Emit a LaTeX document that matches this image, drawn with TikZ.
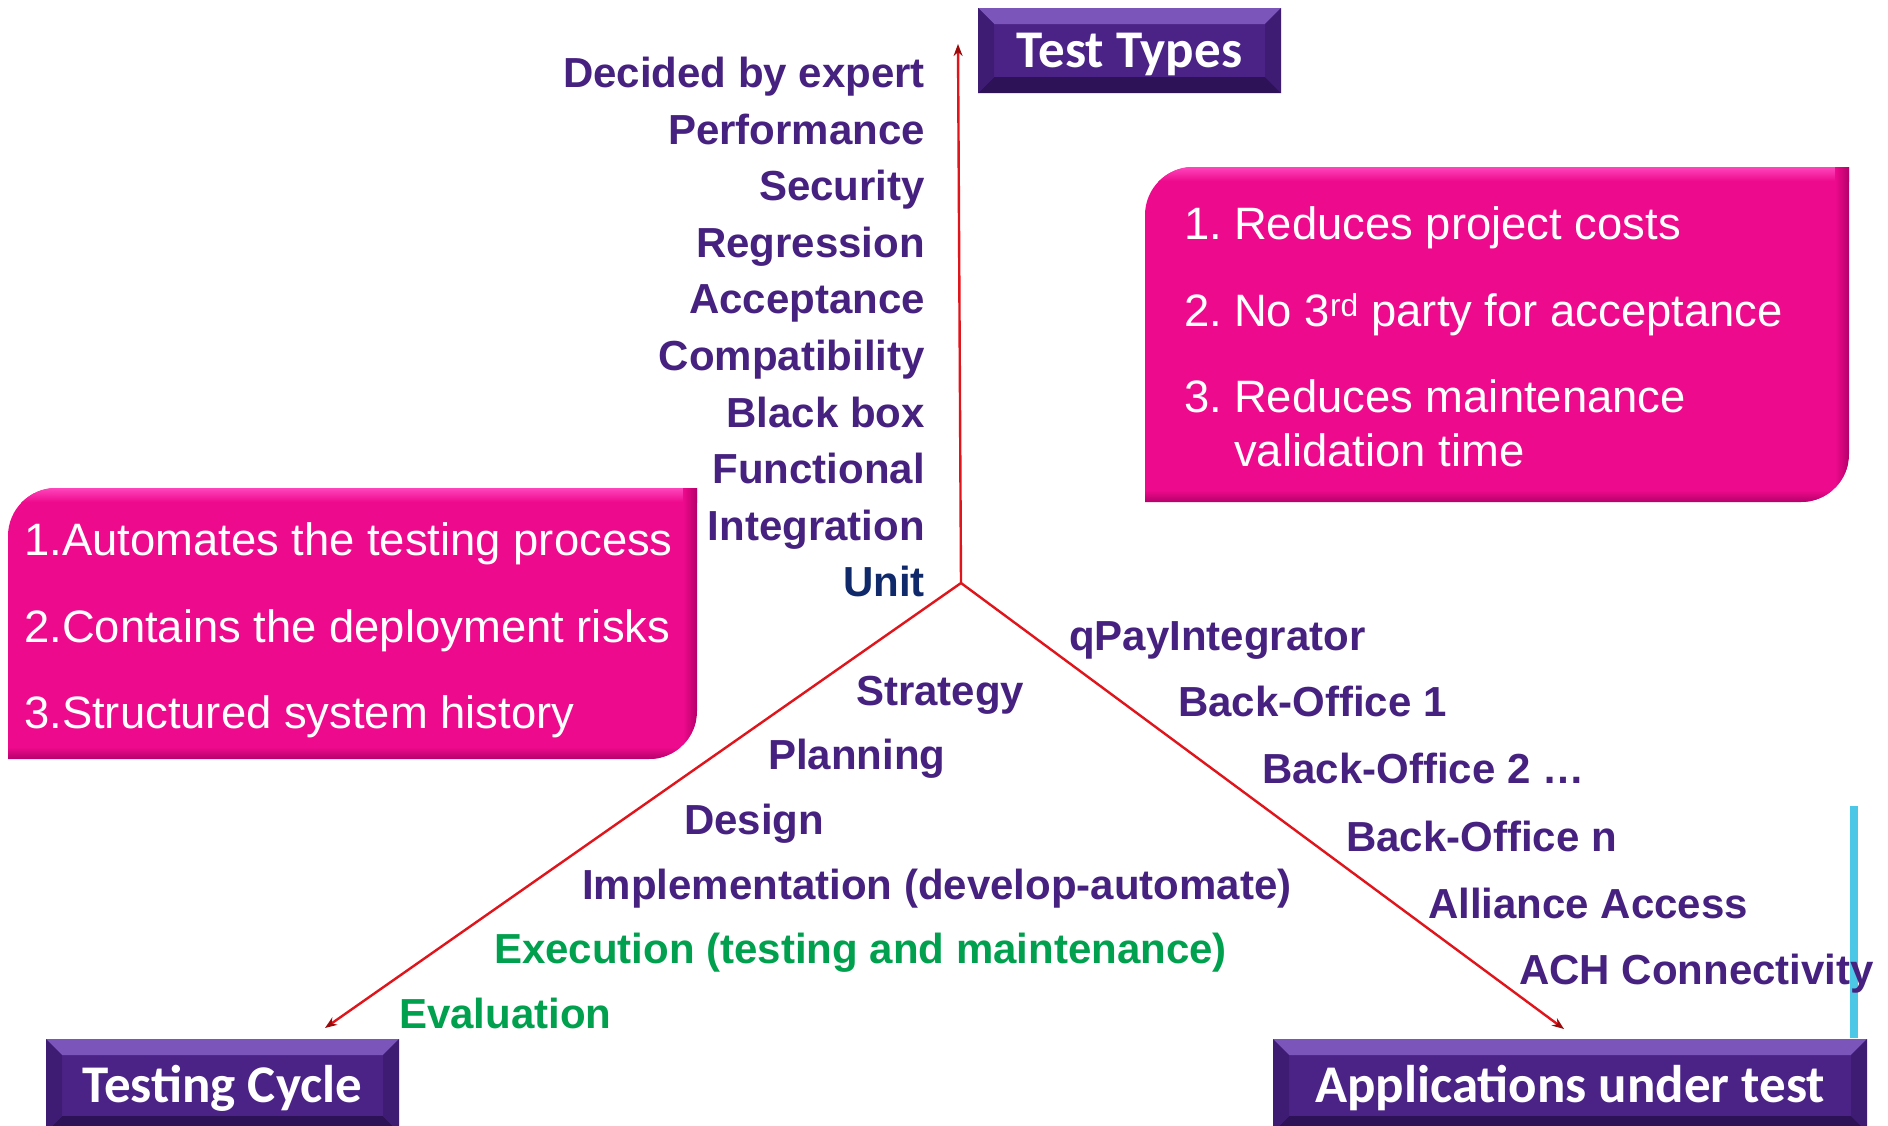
\documentclass[tikz,border=0pt]{standalone}
\usepackage{fontspec}
\setmainfont{Liberation Sans}
\newfontfamily\calfont{Carlito}
\usetikzlibrary{arrows.meta}
\definecolor{tpurple}{HTML}{4B2386}
\definecolor{tlight}{HTML}{7B55B9}
\definecolor{tdark}{HTML}{2E1257}
\definecolor{tside}{HTML}{3E1C74}
\definecolor{lblpurple}{HTML}{46217F}
\definecolor{unitblue}{HTML}{10296A}
\definecolor{lblgreen}{HTML}{00A04E}
\definecolor{pinkmain}{HTML}{EE0A8C}
\definecolor{pinklight}{HTML}{FF45BC}
\definecolor{pinkdark}{HTML}{B5006A}
\definecolor{axisred}{HTML}{E0141B}
\definecolor{axisdark}{HTML}{9A0A0A}
\definecolor{cyanbar}{HTML}{4CC7E6}
\tikzset{
  lbl/.style={inner sep=0pt, anchor=west, text=lblpurple, font=\bfseries\fontsize{42}{50}\selectfont, text height=30pt, text depth=0pt},
  rlbl/.style={lbl, anchor=east},
  grn/.style={lbl, text=lblgreen},
  pinktxt/.style={inner sep=0pt, anchor=west, text=white, font=\fontsize{45.4}{54}\selectfont, text height=32pt, text depth=0pt},
  axisline/.style={draw=axisred, line width=2.4pt, -{Stealth[length=12pt,width=9pt,color=axisdark]}},
  titlebox/.style={fill=tpurple, text=white, inner sep=0pt, text height=40pt, text depth=7pt, font=\calfont\bfseries\fontsize{53}{60}\selectfont,
    path picture={
      \fill[tlight] (path picture bounding box.north west) -- (path picture bounding box.north east)
        -- ([xshift=-16pt,yshift=-16pt]path picture bounding box.north east)
        -- ([xshift=16pt,yshift=-16pt]path picture bounding box.north west) -- cycle;
      \fill[tdark] (path picture bounding box.south west) -- (path picture bounding box.south east)
        -- ([xshift=-16pt,yshift=16pt]path picture bounding box.south east)
        -- ([xshift=16pt,yshift=16pt]path picture bounding box.south west) -- cycle;
      \fill[tside] (path picture bounding box.north west) -- ([xshift=16pt,yshift=-16pt]path picture bounding box.north west)
        -- ([xshift=16pt,yshift=16pt]path picture bounding box.south west) -- (path picture bounding box.south west) -- cycle;
      \fill[tside] (path picture bounding box.north east) -- ([xshift=-16pt,yshift=-16pt]path picture bounding box.north east)
        -- ([xshift=-16pt,yshift=16pt]path picture bounding box.south east) -- (path picture bounding box.south east) -- cycle;
    }}
}
\begin{document}
\begin{tikzpicture}[x=1pt,y=-1pt]
\useasboundingbox (0,0) rectangle (1888,1125);
\fill[white] (0,0) rectangle (1888,1125);

% pink boxes
\begin{scope}
  \clip (1145,502) -- (1145,215) arc[start angle=180,end angle=270,radius=48] -- (1849,167) -- (1849,454) arc[start angle=0,end angle=90,radius=48] -- cycle;
  \fill[pinkmain] (1145,167) rectangle (1849,502);
  \shade[top color=pinklight, bottom color=pinkmain] (1145,167) rectangle (1849,181);
  \shade[left color=pinkmain, right color=pinkdark] (1835,167) rectangle (1849,502);
  \shade[top color=pinkmain, bottom color=pinkdark] (1145,490) rectangle (1849,502);
\end{scope}
\begin{scope}
  \clip (8,759) -- (8,536) arc[start angle=180,end angle=270,radius=48] -- (697,488) -- (697,711) arc[start angle=0,end angle=90,radius=48] -- cycle;
  \fill[pinkmain] (8,488) rectangle (697,759);
  \shade[top color=pinklight, bottom color=pinkmain] (8,488) rectangle (697,502);
  \shade[left color=pinkmain, right color=pinkdark] (683,488) rectangle (697,759);
  \shade[top color=pinkmain, bottom color=pinkdark] (8,747) rectangle (697,759);
\end{scope}

% pink box texts
\node[pinktxt] (r1n) at (1184,223) {1.};
\node[pinktxt] (r1) at (1234,223) {Reduces project costs};
\node[pinktxt] (r2n) at (1184,310) {2.};
\node[pinktxt] (r2) at (1234,310) {No 3\textsuperscript{rd} party for acceptance};
\node[pinktxt] (r3n) at (1184,396) {3.};
\node[pinktxt] (r3) at (1234,396) {Reduces maintenance};
\node[pinktxt] (r3b) at (1234,450) {validation time};

\node[pinktxt] (l1) at (24,539) {1.Automates the testing process};
\node[pinktxt] (l2) at (24,626) {2.Contains the deployment risks};
\node[pinktxt] (l3) at (24,712) {3.Structured system history};

% cyan bar
\fill[cyanbar] (1850,806) rectangle (1858,1038);

% title boxes
\node[titlebox, minimum width=303pt, minimum height=85pt] (tt) at (1129.5,50.5) {Test Types};
\node[titlebox, minimum width=353pt, minimum height=93pt] (tc) at (222.5,1085.5) {Testing Cycle};
\node[titlebox, minimum width=594pt, minimum height=93pt] (au) at (1570,1085.5) {Applications under test};

% axes
\coordinate (hub) at (961,583);
\coordinate (tipUp) at (958,44);
\coordinate (tipL) at (325,1028);
\coordinate (tipR) at (1564,1029);
\draw[axisline] (hub) -- (tipUp);
\draw[axisline] (hub) -- (tipL);
\draw[axisline] (hub) -- (tipR);

% test types
\node[rlbl] (v1) at (925,72) {Decided by expert};
\node[rlbl] (v2) at (925,129) {Performance};
\node[rlbl] (v3) at (925,185) {Security};
\node[rlbl] (v4) at (925,242) {Regression};
\node[rlbl] (v5) at (925,298) {Acceptance};
\node[rlbl] (v6) at (925,355) {Compatibility};
\node[rlbl] (v7) at (925,412) {Black box};
\node[rlbl] (v8) at (925,468) {Functional};
\node[rlbl] (v9) at (925,525) {Integration};
\node[rlbl, text=unitblue] (v10) at (925,581) {Unit};

% testing cycle
\node[lbl] (c1) at (856,690) {Strategy};
\node[lbl] (c2) at (768,754) {Planning};
\node[lbl] (c3) at (684,819) {Design};
\node[lbl] (c4) at (582,884) {Implementation (develop-automate)};
\node[grn] (c5) at (494,948) {Execution (testing and maintenance)};
\node[grn] (c6) at (399,1013) {Evaluation};

% applications
\node[lbl] (a1) at (1069,635) {qPayIntegrator};
\node[lbl] (a2) at (1178,701) {Back-Office 1};
\node[lbl] (a3) at (1262,768) {Back-Office 2 …};
\node[lbl] (a4) at (1346,836) {Back-Office n};
\node[lbl] (a5) at (1428,903) {Alliance Access};
\node[lbl] (a6) at (1519,969) {ACH Connectivity};
\end{tikzpicture}
\end{document}
